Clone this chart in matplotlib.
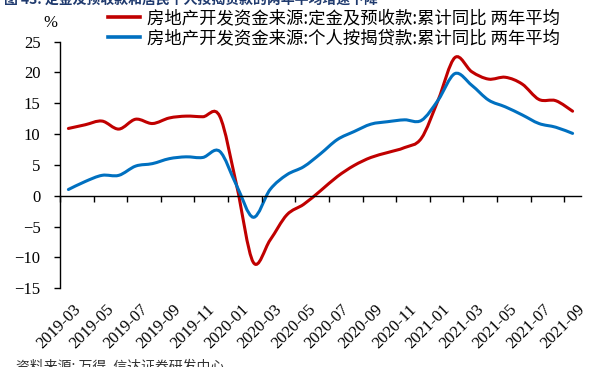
import numpy as np
import matplotlib.pyplot as plt
from matplotlib.path import Path
from matplotlib.patches import PathPatch
from matplotlib.lines import Line2D
from matplotlib.transforms import ScaledTranslation

plt.rcParams['font.family'] = ['Liberation Serif', 'Noto Sans CJK SC', 'DejaVu Sans']

# data: monthly, 2019-03 .. 2021-09
months = [f"{y}-{m:02d}" for y, m in
          [(2019, m) for m in range(3, 13)] +
          [(2020, m) for m in range(1, 13)] +
          [(2021, m) for m in range(1, 10)]]
deposits = [10.9, 11.5, 12.1, 10.8, 12.4, 11.7, 12.6, 12.9, 12.8, 12.9,
            1.8, -10.8, -7.2, -3.1, -1.4, 0.8, 3.1, 4.9, 6.2, 7.0,
            7.8, 9.3, 15.5, 22.4, 20.1, 18.9, 19.2, 18.1, 15.6, 15.4, 13.7]
mortgages = [1.0, 2.3, 3.3, 3.3, 4.8, 5.2, 6.0, 6.3, 6.2, 7.2,
             1.7, -3.5, 1.0, 3.4, 4.7, 6.8, 9.1, 10.4, 11.6, 12.0,
             12.3, 12.2, 15.5, 19.8, 17.9, 15.5, 14.4, 13.1, 11.7, 11.1, 10.1]
labels = ["房地产开发资金来源:定金及预收款:累计同比 两年平均",
          "房地产开发资金来源:个人按揭贷款:累计同比 两年平均"]
colors = ["#C00000", "#0070C0"]


def smooth_path(xs, ys):
    # Excel-style smoothed line: cubic bezier through every point
    p = np.column_stack([xs, ys]).astype(float)
    ext = np.vstack([p[0], p, p[-1]])
    verts = [p[0]]
    codes = [Path.MOVETO]
    for i in range(len(p) - 1):
        a, b, c, d = ext[i], ext[i + 1], ext[i + 2], ext[i + 3]
        verts += [b + (c - a) / 6, c - (d - b) / 6, c]
        codes += [Path.CURVE4] * 3
    return Path(verts, codes)


fig = plt.figure(figsize=(5.93, 3.67), dpi=100)
ax = fig.add_axes([60 / 593, 1 - 288.2 / 367, 521 / 593, 246.7 / 367])

x = np.arange(len(months))
for ys, c in zip([deposits, mortgages], colors):
    ax.add_patch(PathPatch(smooth_path(x, ys), fill=False, edgecolor=c,
                           lw=2.2, transform=ax.transData, capstyle='round'))

ax.set_xlim(-0.5, len(months) - 0.5)
ax.set_ylim(-15, 25)
ax.set_yticks(range(-15, 30, 5))
ax.tick_params(axis='y', direction='out', length=4, width=1, pad=10, labelsize=12)

for s in ['top', 'right']:
    ax.spines[s].set_visible(False)
ax.spines['bottom'].set_position(('data', 0))
ax.spines['left'].set_linewidth(1)
ax.spines['bottom'].set_linewidth(1)

# tick marks on the zero line between category pairs
ax.set_xticks(np.arange(-0.5, len(months), 2))
ax.tick_params(axis='x', direction='out', length=4, width=1, labelbottom=False)

# date labels under the plot
sec = ax.secondary_xaxis('bottom')
sec.set_xticks(x[::2], months[::2])
sec.spines['bottom'].set_visible(False)
sec.tick_params(length=0, pad=9.5, labelsize=12)
off = ScaledTranslation(4 / 100, 0, fig.dpi_scale_trans)
for lab in sec.get_xticklabels():
    lab.set_rotation(45)
    lab.set_ha('right')
    lab.set_rotation_mode('anchor')
    lab.set_transform(lab.get_transform() + off)

fig.text(50 / 593, 1 - 23 / 367, "%", fontsize=12, ha='center', va='center')

handles = [Line2D([], [], color=c, lw=2.6) for c in colors]
fig.legend(handles, labels, loc='upper left',
           bbox_to_anchor=(108 / 593, 1 - 9 / 367), frameon=False,
           borderaxespad=0, borderpad=0, handlelength=1.85, handletextpad=0.4,
           labelspacing=0.13,
           prop={'family': ['Noto Sans CJK SC'], 'size': 12.5, 'weight': 'light'})

fig.text(4 / 593, 1.0, "图 43: 定金及预收款和居民个人按揭贷款的两年平均增速下降",
         family=['Noto Sans CJK SC'], fontsize=10, fontweight='bold',
         color='#1F3A6E', ha='left', va='center')
fig.text(16 / 593, 1 / 367, "资料来源: 万得, 信达证券研发中心",
         family=['Noto Sans CJK SC'], fontsize=10, color='#333333',
         ha='left', va='center')

fig.savefig("out.png", dpi=100)
